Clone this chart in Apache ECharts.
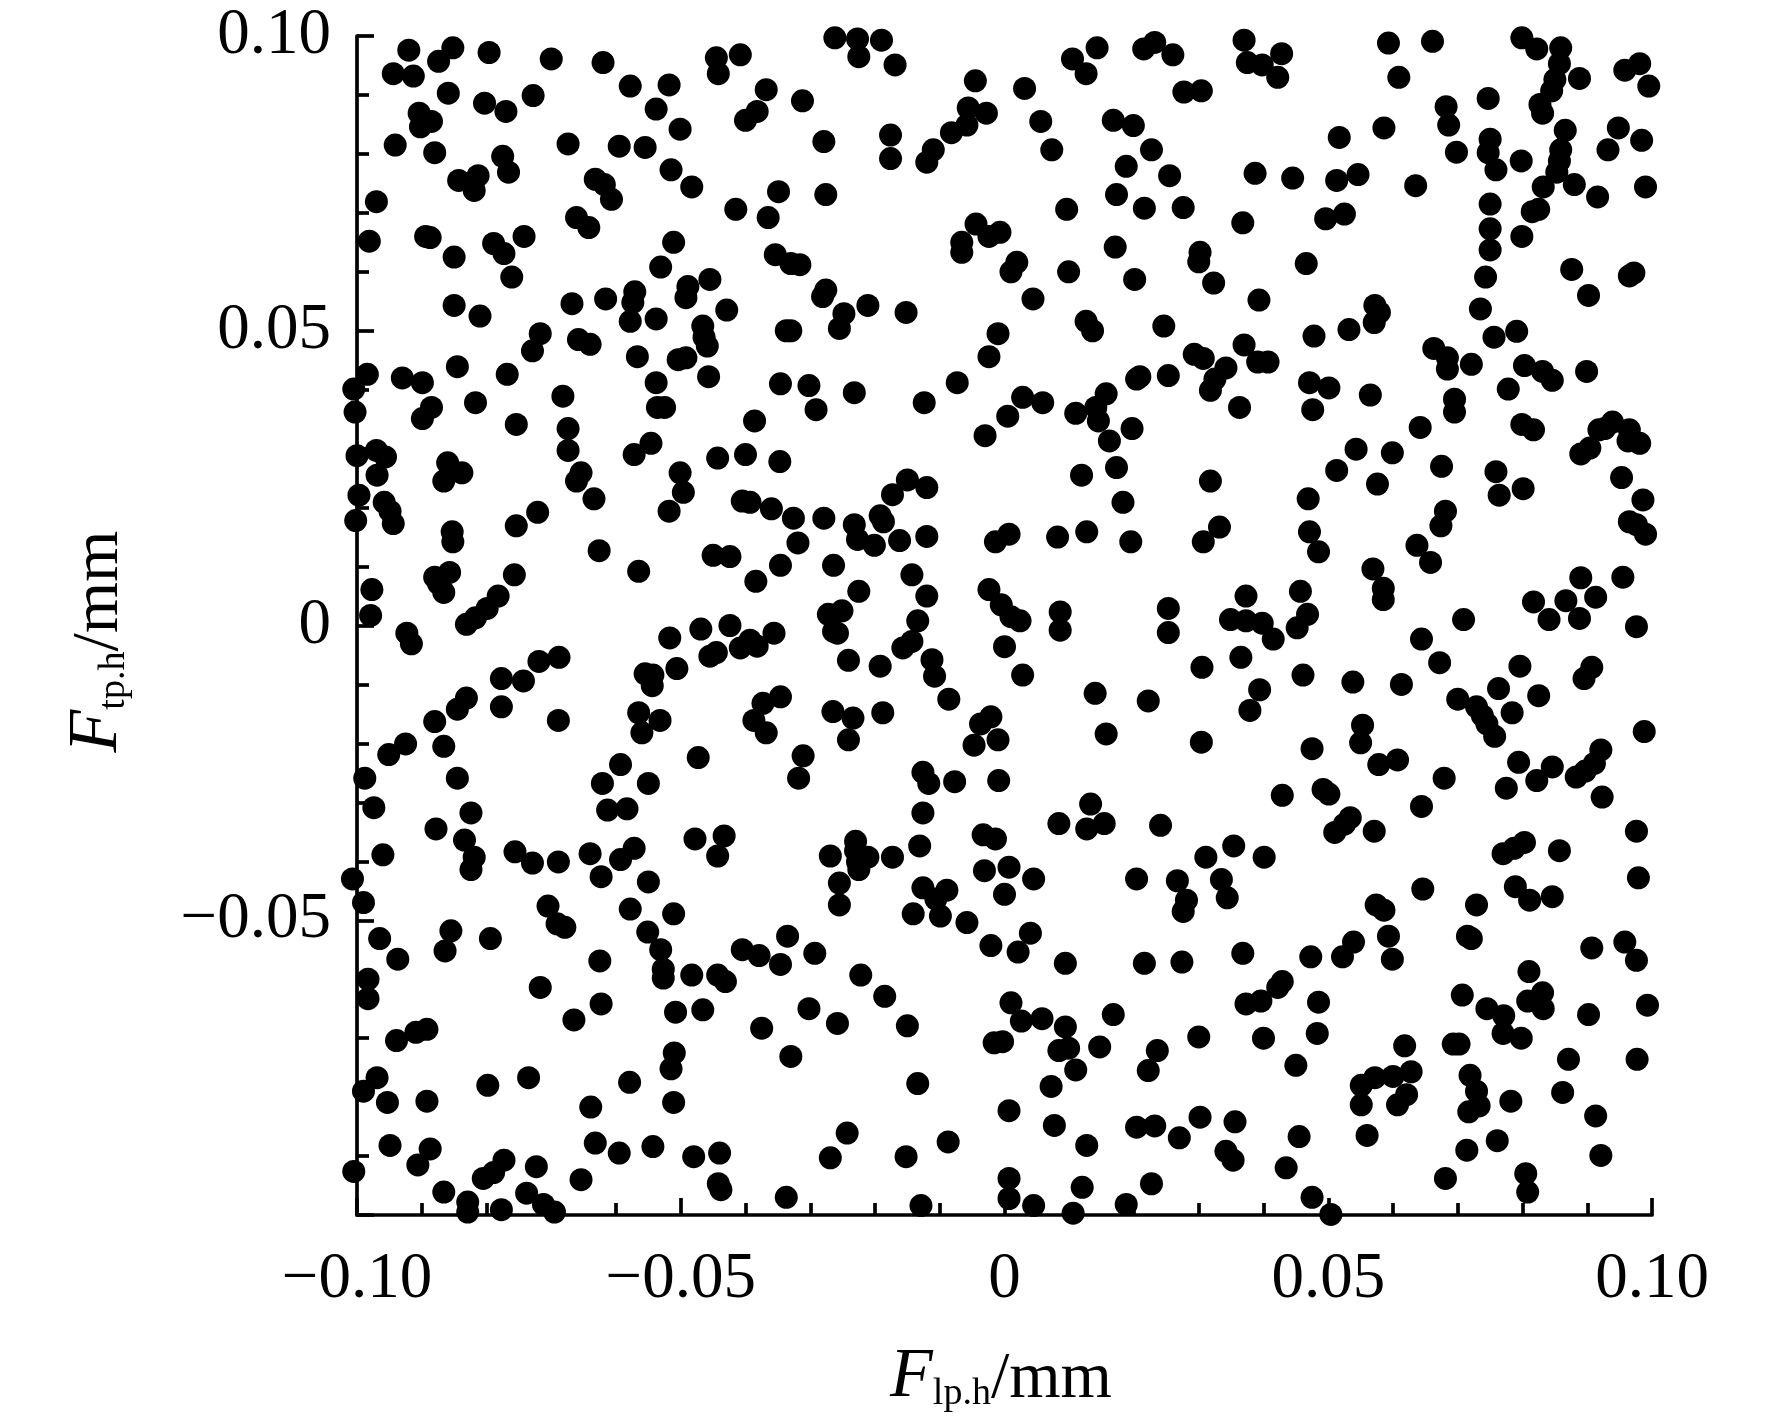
<!DOCTYPE html>
<html><head><meta charset="utf-8">
<style>html,body{margin:0;padding:0;background:#fff}#c{width:1772px;height:1423px}</style>
<script src="https://cdn.jsdelivr.net/npm/echarts@6/dist/echarts.min.js"></script>
</head><body><div id="c"></div>
<script>
const xTickValues=[-0.1,-0.05,0,0.05,0.1];
const xTickLabels=['−0.10','−0.05','0','0.05','0.10'];
const yTickValues=[-0.05,0,0.05,0.1];
const yTickLabels=['−0.05','0','0.05','0.10'];
const pointsTop=[[-.092,.0976],[-.0944,.0936],[-.0913,.0932],[-.0874,.0957],[-.0852,.098],[-.0796,.0972],[-.07,.0961],[-.062,.0955],[-.0578,.0915],[-.0518,.0917],[-.0445,.0963],[-.0442,.0936],[-.0408,.0968],[-.0368,.0909],[-.0262,.0997],[-.0227,.0995],[-.0225,.0965],[-.019,.0993],[-.0169,.0951],[-.0312,.089],[-.04,.0857],[-.0382,.0872],[-.0538,.0876],[-.0501,.0842],[-.0859,.0903],[-.0803,.0886],[-.077,.0872],[-.0728,.0899],[-.0904,.0869],[-.0885,.0855],[-.0902,.0846],[-.0941,.0815],[-.088,.0802],[-.0674,.0817],[-.0595,.0813],[-.0555,.0811],[-.0483,.0744],[-.0515,.0773],[-.0632,.0757],[-.0618,.0748],[-.0607,.0723],[-.0843,.0755],[-.0813,.0763],[-.0819,.0738],[-.0775,.0796],[-.0766,.0769],[-.097,.0719],[-.0279,.0821],[-.0276,.0731],[-.0349,.0736],[-.0415,.0706],[-.0365,.0692],[-.0176,.0832],[-.0176,.0792],[-.012,.0786],[-.011,.0807],[-.0082,.0836],[-.0058,.0849],[-.0045,.0924],[-.0056,.0878],[-.0028,.0869],[.0031,.0911],[.0056,.0855],[.0073,.0807],[.0105,.0961],[.0126,.0936],[.0143,.098],[.0215,.0978],[.0232,.0989],[.026,.0968],[.0277,.0905],[.0304,.0907],[.037,.0993],[.0375,.0955],[.0398,.0951],[.0422,.093],[.0428,.097],[.0593,.0988],[.0609,.093],[.0661,.0991],[.0799,.0997],[.0822,.0978],[.0859,.098],[.0857,.0953],[.0888,.0928],[.085,.0926],[.0845,.0907],[.0827,.0884],[.0831,.0869],[.0866,.084],[.0859,.0807],[.0857,.0788],[.0853,.0769],[.088,.0748],[.0798,.0788],[.075,.0825],[.0759,.0773],[.0747,.0802],[.0682,.088],[.0686,.0849],[.0698,.0803],[.0747,.0894],[.0586,.0844],[.0517,.0828],[.0513,.0755],[.0546,.0765],[.0635,.0746],[.0916,.0727],[.0932,.0807],[.0948,.0844],[.0958,.0942],[.0981,.0953],[.0995,.0915],[.0984,.0823],[.099,.0744]];
const pointsUpper=[[-.0981,.0652],[-.0894,.066],[-.0887,.0658],[-.085,.0625],[-.0789,.0648],[-.0773,.0631],[-.0742,.066],[-.0761,.0591],[-.081,.0525],[-.085,.0543],[-.0668,.0546],[-.0661,.0692],[-.0642,.0675],[-.0717,.0495],[-.0729,.0466],[-.0658,.0485],[-.064,.0477],[-.0616,.0554],[-.0571,.0566],[-.0574,.0548],[-.0578,.0516],[-.0531,.0608],[-.0511,.065],[-.0538,.052],[-.0489,.0575],[-.0492,.0556],[-.0455,.0587],[-.0466,.0508],[-.0464,.0489],[-.0459,.0474],[-.0504,.0451],[-.0492,.0454],[-.0567,.0456],[-.0429,.0535],[-.0354,.0629],[-.033,.0614],[-.0316,.0612],[-.0281,.0558],[-.0276,.0569],[-.0248,.0529],[-.0255,.0504],[-.0211,.0543],[-.0152,.0531],[-.0337,.05],[-.033,.05],[-.0346,.041],[-.0302,.0407],[-.0291,.0366],[-.0232,.0395],[-.0124,.0378],[-.0073,.0412],[-.0024,.0456],[-.001,.0495],[-.0066,.065],[-.0066,.0633],[-.0044,.0681],[-.0024,.066],[-.0007,.0667],[.001,.06],[.0019,.0616],[.0044,.0554],[.0096,.0706],[.0099,.06],[.0126,.0516],[.0136,.05],[.0171,.0642],[.0173,.0731],[.0168,.0857],[.0199,.0848],[.0227,.0807],[.0188,.0779],[.0216,.0708],[.0255,.0763],[.0276,.0709],[.0302,.0633],[.03,.0617],[.0323,.0581],[.0368,.0683],[.0387,.0767],[.0445,.0759],[.0393,.0552],[.0246,.0508],[.0201,.0587],[.0496,.069],[.0525,.0698],[.0466,.0614],[.0478,.0491],[.0532,.0502],[.0571,.0514],[.0572,.0543],[.0579,.0531],[.0735,.0537],[.0743,.0591],[.075,.0637],[.075,.0673],[.075,.0715],[.0756,.0489],[.0791,.0499],[.0799,.066],[.0815,.0702],[.0825,.0706],[.0832,.0744],[.0876,.0604],[.0902,.056],[.0965,.0593],[.0972,.0598],[.0663,.047],[.0684,.0454],[.0684,.0435],[.0721,.0443],[.0778,.0401],[.0803,.0441],[.0831,.0431],[.0846,.0416],[.0899,.0431]];
const pointsMiddle=[[-.1005,.0401],[-.0984,.0426],[-.093,.042],[-.0899,.0412],[-.1003,.0362],[-.0885,.037],[-.0899,.0351],[-.0845,.0439],[-.0817,.0378],[-.0768,.0426],[-.0754,.0341],[-.0682,.0389],[-.0674,.0334],[-.0674,.0297],[-.0654,.0259],[-.0661,.0245],[-.0634,.0215],[-.1,.0288],[-.097,.0297],[-.0956,.0286],[-.0969,.0255],[-.0958,.0209],[-.0949,.0194],[-.0944,.0173],[-.0997,.0221],[-.1002,.0178],[-.086,.0276],[-.0838,.0259],[-.0866,.0245],[-.0853,.0159],[-.0852,.0142],[-.0754,.0169],[-.0721,.0192],[-.0757,.0086],[-.0857,.009],[-.088,.0082],[-.0874,.0071],[-.0866,.0056],[-.0831,.0002],[-.0817,.0013],[-.0799,.0029],[-.0782,.005],[-.0977,.0061],[-.0979,.0017],[-.0923,-.0013],[-.0916,-.0031],[-.0565,.0092],[-.0626,.0127],[-.0572,.029],[-.0546,.0309],[-.0536,.037],[-.0525,.037],[-.0538,.0412],[-.0501,.0259],[-.0496,.0226],[-.0518,.0194],[-.0443,.0284],[-.04,.029],[-.0405,.0211],[-.0393,.0209],[-.0347,.0278],[-.036,.0198],[-.0386,.0347],[-.0457,.0422],[-.0326,.0182],[-.0346,.0102],[-.0319,.014],[-.0384,.0075],[-.045,.0119],[-.0424,.0117],[-.0279,.0182],[-.0264,.0102],[-.0225,.0058],[-.0192,.0186],[-.0232,.0171],[-.0227,.0146],[-.0201,.0136],[-.0162,.0144],[-.0187,.0176],[-.0173,.0222],[-.015,.0247],[-.012,.0234],[-.012,.0151],[-.0143,.0086],[-.012,.005],[-.0272,.0019],[-.0251,.0025],[-.0264,-.001],[-.0134,.0008],[-.003,.0322],[.0005,.0355],[.0028,.0387],[.0059,.0378],[.011,.036],[.0141,.037],[.0157,.0393],[.0145,.0347],[.0162,.0313],[.0173,.0268],[.0183,.0209],[.0195,.0142],[.0197,.0334],[.0119,.0255],[.0127,.0159],[.0082,.015],[-.0014,.0142],[.0007,.0155],[-.0024,.0061],[-.0005,.0035],[.001,.0015],[.0024,.0008],[.0086,.0023],[.0086,-.0008],[.0253,.0029],[.0253,-.0012],[.0318,.0245],[.0332,.0167],[.0307,.0142],[.0349,.001],[.0373,.0008],[.0398,.0004],[.0415,-.0023],[.0373,.005],[.0253,.0424],[.0209,.0422],[.0204,.0418],[.0293,.046],[.0307,.0453],[.0318,.0399],[.0325,.0418],[.0342,.0437],[.037,.0476],[.0391,.0447],[.0407,.0447],[.0363,.037],[.0471,.0412],[.0501,.0403],[.0476,.0366],[.0513,.0263],[.0469,.0215],[.0471,.0159],[.0485,.0125],[.0457,.0058],[.0468,.0019],[.0452,-.0004],[.0565,.0391],[.0543,.0299],[.0599,.0293],[.0576,.024],[.0569,.0096],[.0585,.0063],[.0585,.0044],[.0642,.0336],[.0637,.0136],[.0658,.0107],[.0644,-.0023],[.0674,.0169],[.0681,.0194],[.0675,.027],[.0695,.0384],[.0695,.0362],[.0709,.001],[.0759,.0261],[.0764,.0221],[.0801,.0232],[.0799,.0341],[.0817,.0332],[.089,.0291],[.0904,.0301],[.0918,.0332],[.0939,.0345],[.0927,.0334],[.0965,.0332],[.0963,.0313],[.0981,.0309],[.0953,.0251],[.0986,.0213],[.0965,.0176],[.0976,.0171],[.099,.0155],[.089,.0081],[.0913,.0048],[.0955,.0082],[.0976,-.0002],[.0867,.0042],[.0817,.004],[.0888,.0012],[.0841,.001]];
const pointsLower=[[-.0831,-.0123],[-.0845,-.0142],[-.088,-.0163],[-.0866,-.0205],[-.0925,-.0201],[-.0951,-.0219],[-.0988,-.0259],[-.0974,-.0309],[-.0845,-.0259],[-.0824,-.0318],[-.0878,-.0345],[-.0834,-.0364],[-.0819,-.0393],[-.0824,-.0414],[-.096,-.0389],[-.1007,-.043],[-.099,-.047],[-.0756,-.0384],[-.0729,-.0403],[-.0689,-.0401],[-.0777,-.009],[-.0777,-.0138],[-.0743,-.0094],[-.0719,-.0061],[-.0688,-.0054],[-.0689,-.0161],[-.0621,-.0268],[-.0593,-.0236],[-.0613,-.0313],[-.0583,-.0311],[-.0593,-.0397],[-.0572,-.0378],[-.064,-.0387],[-.0623,-.0426],[-.055,-.0435],[-.0578,-.0481],[-.0705,-.0476],[-.0691,-.0506],[-.0679,-.0512],[-.0555,-.0082],[-.0544,-.0102],[-.0543,-.0084],[-.0565,-.0148],[-.056,-.0182],[-.0532,-.0161],[-.055,-.0268],[-.0517,-.0021],[-.0506,-.0073],[-.0469,-.0006],[-.0455,-.0052],[-.0424,0],[-.0445,-.0046],[-.0408,-.0038],[-.0393,-.0025],[-.0382,-.0035],[-.0356,-.0013],[-.0346,-.0121],[-.0373,-.0132],[-.0387,-.0161],[-.0368,-.0182],[-.0311,-.0221],[-.0318,-.0259],[-.0473,-.0224],[-.0478,-.0362],[-.0433,-.0357],[-.0443,-.0391],[-.0265,-.0146],[-.0234,-.0157],[-.0241,-.0194],[-.0188,-.0148],[-.0192,-.0069],[-.0241,-.0059],[-.0258,-.0013],[-.0157,-.0038],[-.0143,-.0027],[-.0112,-.0058],[-.0108,-.0086],[-.0086,-.0125],[-.0126,-.0249],[-.0117,-.0268],[-.0126,-.0318],[-.0131,-.0374],[-.0126,-.0445],[-.0141,-.0489],[-.0077,-.0265],[-.0047,-.0203],[-.0037,-.0167],[-.0021,-.0155],[-.001,-.0194],[-.0009,-.0263],[-.0269,-.0391],[-.0255,-.0437],[-.023,-.0366],[-.023,-.0382],[-.0227,-.0401],[-.0211,-.0393],[-.0173,-.0393],[-.0225,-.0414],[-.0255,-.0474],[-.0089,-.0449],[-.0106,-.0464],[-.0099,-.0493],[-.0033,-.0355],[-.0014,-.0362],[-.0031,-.0416],[.0007,-.041],[0,-.0456],[.0045,-.043],[.0084,-.0336],[.0133,-.0303],[.0127,-.0345],[.0154,-.0336],[.014,-.0115],[.0157,-.0184],[0,-.0036],[.0028,-.0084],[.0222,-.0128],[.0304,-.0198],[.0241,-.0339],[.0204,-.043],[.0311,-.0393],[.0267,-.0433],[.0281,-.0466],[.0276,-.0485],[.0335,-.0431],[.0344,-.0462],[.0354,-.0374],[.0401,-.0393],[.0305,-.0071],[.0365,-.0054],[.0394,-.0109],[.0379,-.0144],[.0429,-.0288],[.0461,-.0084],[.0475,-.0209],[.0492,-.0278],[.0501,-.0286],[.051,-.0351],[.0538,-.0096],[.0534,-.0326],[.0525,-.0337],[.0571,-.0349],[.0553,-.0169],[.055,-.0199],[.0578,-.0236],[.0607,-.0228],[.0613,-.01],[.0644,-.0307],[.0679,-.0259],[.0672,-.0063],[.07,-.0125],[.0729,-.0138],[.0738,-.0153],[.0745,-.0167],[.0757,-.0188],[.0763,-.0107],[.0784,-.0148],[.0794,-.0232],[.0822,-.0263],[.0846,-.024],[.0825,-.0119],[.0796,-.0069],[.0775,-.0276],[.077,-.0387],[.0787,-.0378],[.0803,-.0368],[.0789,-.0443],[.0811,-.0466],[.0846,-.046],[.0857,-.0382],[.0883,-.0257],[.0897,-.0247],[.0911,-.0234],[.0921,-.0211],[.0895,-.009],[.0907,-.0071],[.0923,-.0291],[.0976,-.0349],[.0979,-.0428],[.0988,-.018],[.0729,-.0474]];
const pointsBottom=[[-.0965,-.0531],[-.0937,-.0566],[-.0983,-.06],[-.0983,-.0633],[-.0855,-.0518],[-.0864,-.0552],[-.0794,-.0531],[-.0717,-.0614],[-.0665,-.0669],[-.0625,-.0569],[-.0623,-.0642],[-.0551,-.052],[-.0531,-.055],[-.0527,-.0583],[-.0527,-.0598],[-.0508,-.0656],[-.0466,-.0652],[-.0511,-.0489],[-.0483,-.0593],[-.0443,-.0593],[-.0431,-.0604],[-.0405,-.055],[-.0379,-.056],[-.0346,-.0575],[-.0335,-.0527],[-.0293,-.0556],[-.0302,-.065],[-.0258,-.0675],[-.0222,-.0593],[-.0185,-.0629],[-.015,-.0679],[-.0939,-.0704],[-.0909,-.069],[-.0892,-.0685],[-.0375,-.0683],[-.033,-.0731],[-.051,-.0725],[-.0515,-.0752],[-.0511,-.0809],[-.0579,-.0775],[-.0639,-.0817],[-.0798,-.078],[-.0735,-.0767],[-.0892,-.0807],[-.0953,-.0809],[-.0969,-.0767],[-.099,-.079],[-.0949,-.0882],[-.0906,-.0915],[-.0887,-.0888],[-.0632,-.0878],[-.0595,-.0895],[-.0543,-.0884],[-.048,-.0901],[-.044,-.0895],[-.0442,-.0947],[-.0438,-.0957],[-.0243,-.0861],[-.0269,-.0903],[-.0087,-.0876],[-.0152,-.0901],[-.0134,-.0777],[-.0866,-.0961],[-.0829,-.0978],[-.0829,-.0995],[-.0805,-.0938],[-.0789,-.0928],[-.0773,-.0907],[-.0723,-.0918],[-.0738,-.0963],[-.0777,-.0991],[-.0712,-.0982],[-.0695,-.0995],[-.0654,-.094],[-.1005,-.0926],[-.0337,-.097],[-.0129,-.0984],[.0007,-.0938],[.0007,-.0972],[.0045,-.0984],[.0106,-.0997],[.012,-.0953],[.0188,-.0982],[.0227,-.0947],[.0204,-.0851],[.0232,-.0849],[.027,-.0869],[.0302,-.0834],[.0356,-.0842],[.0342,-.0892],[.0353,-.0907],[.0435,-.092],[.0455,-.0867],[.0475,-.097],[.0504,-.0999],[.0077,-.0848],[.0127,-.0882],[.0072,-.0782],[.011,-.0754],[.0094,-.0681],[.0084,-.0721],[.0099,-.0717],[.0147,-.0715],[.0168,-.066],[.0094,-.0573],[.004,-.0522],[.0021,-.0554],[-.0021,-.0543],[.001,-.064],[.0026,-.0671],[.0058,-.0667],[-.0016,-.0708],[-.0003,-.0706],[.0007,-.0823],[-.0058,-.0504],[.0216,-.0573],[.0274,-.0571],[.0236,-.0721],[.0222,-.0755],[.03,-.0698],[.0368,-.0556],[.0373,-.0642],[.0396,-.0637],[.04,-.07],[.0422,-.0614],[.0429,-.0604],[.045,-.0746],[.0483,-.0692],[.0485,-.0639],[.0473,-.0562],[.0522,-.0562],[.0539,-.0537],[.0551,-.078],[.0572,-.0767],[.06,-.0765],[.0628,-.0757],[.0618,-.0713],[.056,-.0865],[.0551,-.0813],[.0607,-.0813],[.0621,-.0796],[.0574,-.0474],[.0586,-.0483],[.0593,-.0527],[.0599,-.0566],[.0646,-.0447],[.0707,-.0627],[.0745,-.065],[.0771,-.0662],[.0808,-.0637],[.0831,-.0623],[.0832,-.065],[.077,-.0692],[.0798,-.07],[.0871,-.0736],[.0862,-.0792],[.0902,-.066],[.0907,-.0547],[.0958,-.0537],[.0976,-.0568],[.0993,-.0644],[.0977,-.0736],[.0693,-.071],[.0702,-.071],[.0719,-.0763],[.0729,-.079],[.0733,-.0815],[.0717,-.0825],[.0782,-.0807],[.0761,-.0874],[.0714,-.089],[.0681,-.0938],[.0805,-.093],[.0808,-.0961],[.0913,-.0832],[.0921,-.0899],[.0715,-.0527],[.0721,-.0531],[.081,-.0587]];

const serif='"Liberation Serif","Times New Roman",serif';
const allPoints=[...pointsTop,...pointsUpper,...pointsMiddle,...pointsLower,...pointsBottom];
const makeFmt=(vals,labs)=>v=>{const i=vals.findIndex(t=>Math.abs(t-v)<1e-9);return i<0?'':labs[i];};
const axisBase={type:'value',min:-0.1,max:0.1,interval:0.05,splitLine:{show:false},
  axisLine:{onZero:false,lineStyle:{color:'#000',width:3.7}},
  axisTick:{inside:true,length:17,lineStyle:{color:'#000',width:3.7}},
  minorTick:{show:true,splitNumber:5,length:12,lineStyle:{color:'#000',width:3.7}},
  minorSplitLine:{show:false},
  nameLocation:'middle',
  nameTextStyle:{color:'#000',fontFamily:serif,rich:{
    f:{fontFamily:serif,fontStyle:'italic',fontSize:70,color:'#000',verticalAlign:'bottom',lineHeight:72},
    s:{fontFamily:serif,fontSize:38,color:'#000',verticalAlign:'bottom',lineHeight:56},
    u:{fontFamily:serif,fontSize:66,color:'#000',verticalAlign:'bottom',lineHeight:72}}}};
const labelBase={color:'#000',fontFamily:serif,fontSize:65,hideOverlap:false};
const chart=echarts.init(document.getElementById('c'),null,{renderer:'canvas'});
chart.setOption({animation:false,backgroundColor:'#fff',
  grid:{left:357,right:120,top:36,bottom:208,containLabel:false},
  xAxis:{...axisBase,axisLabel:{...labelBase,margin:32,formatter:makeFmt(xTickValues,xTickLabels),showMinLabel:true,showMaxLabel:true},
    name:'{f|F}{s|lp.h}{u|/mm}',nameGap:126,nameTextStyle:{...axisBase.nameTextStyle,padding:[0,7,0,0]}},
  yAxis:{...axisBase,axisLabel:{...labelBase,margin:26,padding:[5,0,0,0],formatter:makeFmt(yTickValues,yTickLabels),showMinLabel:false,showMaxLabel:true},
    name:'{f|F}{s|tp.h}{u|/mm}',nameGap:224,nameTextStyle:{...axisBase.nameTextStyle,padding:[0,32,0,0]}},
  series:[{type:'scatter',data:allPoints,symbol:'circle',symbolSize:23,clip:false,itemStyle:{color:'#000',opacity:1}}]
});
</script></body></html>
